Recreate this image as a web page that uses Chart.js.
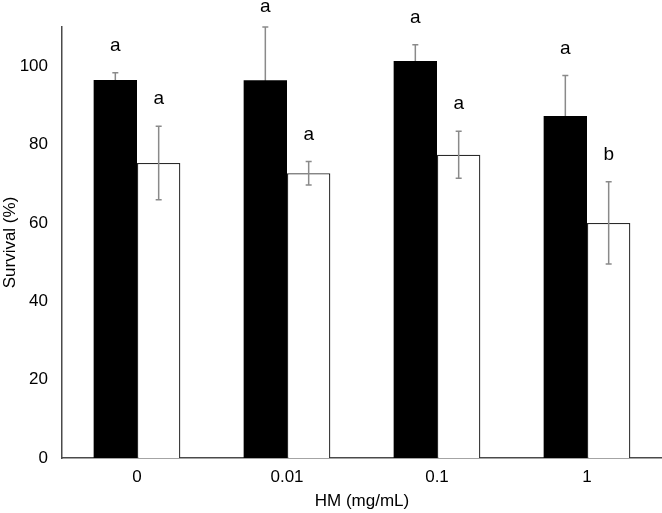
<!DOCTYPE html>
<html><head><meta charset="utf-8">
<script src="https://cdn.jsdelivr.net/npm/chart.js@4"></script>
<style>html,body{margin:0;padding:0;background:#fff;overflow:hidden;} #wrap{width:662px;height:513px;position:relative;}</style>
</head><body><div id="wrap"><canvas id="c" width="662" height="513"></canvas></div>
<script>
const categories = ['0', '0.01', '0.1', '1'];
const seriesBlack = [96.5, 96.4, 101.3, 87.3];
const errorsBlack = [1.8, 13.6, 4.2, 10.3];
const lettersBlack = ['a', 'a', 'a', 'a'];
const seriesWhite = [75.3, 72.7, 77.4, 60.0];
const errorsWhite = [9.4, 3.0, 6.0, 10.5];
const lettersWhite = ['a', 'a', 'a', 'b'];
const yTicks = [0, 20, 40, 60, 80, 100];

const FONT = "'Liberation Sans', Arial, Helvetica, sans-serif";
const errs = [errorsBlack, errorsWhite];
const vals = [seriesBlack, seriesWhite];
const letters = [lettersBlack, lettersWhite];

function drawErr(chart, di) {
  const ctx = chart.ctx, y = chart.scales.y;
  const meta = chart.getDatasetMeta(di);
  ctx.save();
  ctx.strokeStyle = '#8a8a8a';
  ctx.lineWidth = 1.5;
  meta.data.forEach((bar, j) => {
    const v = vals[di][j], e = errs[di][j];
    const yt = y.getPixelForValue(v + e), yb = y.getPixelForValue(v - e);
    ctx.beginPath();
    ctx.moveTo(bar.x, yt); ctx.lineTo(bar.x, yb);
    ctx.moveTo(bar.x - 3, yt); ctx.lineTo(bar.x + 3, yt);
    ctx.moveTo(bar.x - 3, yb); ctx.lineTo(bar.x + 3, yb);
    ctx.stroke();
  });
  ctx.restore();
}

const errPlugin = {
  id: 'errbars',
  beforeDatasetDraw(chart, args) { if (args.index === 0) drawErr(chart, 0); },
  afterDatasetDraw(chart, args) { if (args.index === 1) drawErr(chart, 1); },
  afterDatasetsDraw(chart) {
    const ctx = chart.ctx, y = chart.scales.y;
    ctx.save();
    ctx.fillStyle = '#000';
    ctx.font = '19px ' + FONT;
    ctx.textAlign = 'center';
    ctx.textBaseline = 'middle';
    [0, 1].forEach(di => {
      chart.getDatasetMeta(di).data.forEach((bar, j) => {
        const yt = y.getPixelForValue(vals[di][j] + errs[di][j]);
        ctx.fillText(letters[di][j], bar.x, Math.max(yt - 27, 7));
      });
    });
    ctx.restore();
  }
};

new Chart(document.getElementById('c'), {
  type: 'bar',
  data: {
    labels: categories,
    datasets: [
      { data: seriesBlack, backgroundColor: '#000', borderColor: '#000', borderWidth: 0 },
      { data: seriesWhite, backgroundColor: '#fff', borderColor: '#2a2a2a', borderWidth: 1.3, borderSkipped: 'bottom' }
    ]
  },
  options: {
    responsive: false,
    animation: false,
    devicePixelRatio: 1,
    layout: { padding: { top: 27, right: 0, left: 0, bottom: 0 } },
    datasets: { bar: { categoryPercentage: 0.578, barPercentage: 1.0 } },
    plugins: { legend: { display: false }, tooltip: { enabled: false } },
    scales: {
      x: {
        grid: { display: false, drawTicks: false },
        border: { display: true, color: '#4a4a4a', width: 1.5 },
        ticks: { color: '#000', font: { family: FONT, size: 17 }, padding: 9 },
        title: { display: true, text: 'HM (mg/mL)', color: '#000', font: { family: FONT, size: 17 }, padding: { top: 0, bottom: 1 } },
        afterFit(s) { s.height = 55; }
      },
      y: {
        min: 0, max: 110,
        grid: { display: false, drawTicks: false },
        border: { display: true, color: '#4a4a4a', width: 1.5 },
        ticks: { color: '#000', font: { family: FONT, size: 17 }, padding: 14 },
        afterBuildTicks(s) { s.ticks = yTicks.map(v => ({ value: v })); },
        title: { display: true, text: 'Survival (%)', color: '#000', font: { family: FONT, size: 17 }, padding: 0 },
        afterFit(s) { s.width = 62; }
      }
    }
  },
  plugins: [errPlugin]
});
</script>
</body></html>
